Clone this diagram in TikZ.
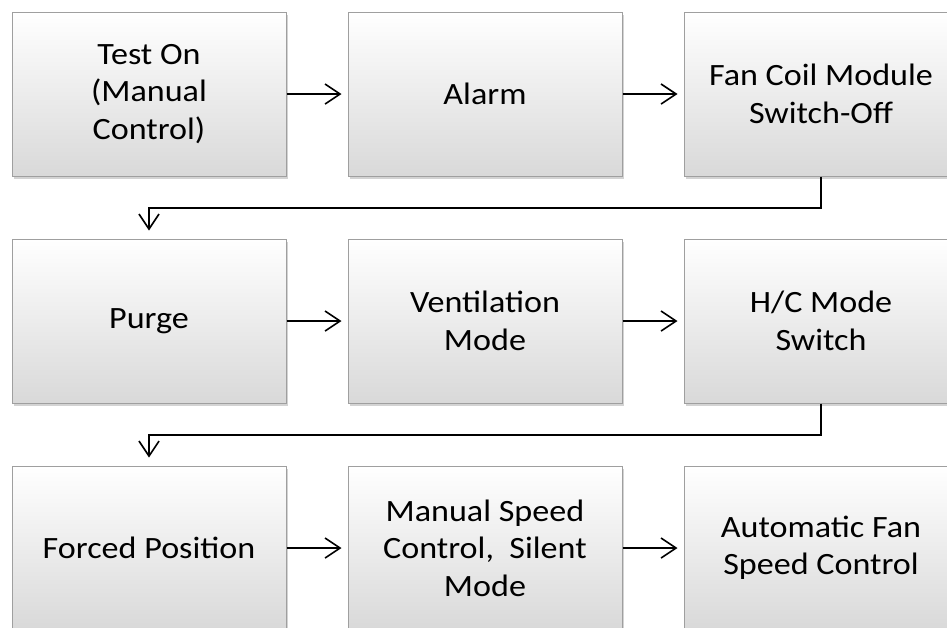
\documentclass[tikz,border=0pt]{standalone}
\usepackage{fontspec}
\setmainfont[FakeStretch=1.1]{Carlito}
\usetikzlibrary{arrows.meta,shadows}
\tikzset{
  flowbox/.style={draw=gray!75, line width=1pt, top color=white, bottom color=gray!30,
    minimum width=274pt, minimum height=164pt, align=center, inner sep=0pt,
    font=\fontsize{31}{37.5}\selectfont,
    drop shadow={shadow xshift=1.5pt, shadow yshift=-3pt, opacity=0.35, fill=gray}},
  flowarrow/.style={line width=1.6pt, -{Straight Barb[length=15pt,width=20pt,line width=1.6pt]}, shorten >=6pt}
}
\begin{document}
\begin{tikzpicture}[x=1pt,y=-1pt]
\useasboundingbox (0,0) rectangle (947,627);
\clip (0,0) rectangle (947,627);
\node[flowbox] (a) at (149,94) {Test On\\(Manual\\Control)};
\node[flowbox] (b) at (485,94) {Alarm};
\node[flowbox] (c) at (821,94) {Fan Coil Module\\Switch-Off};
\node[flowbox] (d) at (149,321) {Purge};
\node[flowbox] (e) at (485,321) {Ventilation\\Mode};
\node[flowbox] (f) at (821,321) {H/C Mode\\Switch};
\node[flowbox] (g) at (149,548) {Forced Position};
\node[flowbox] (h) at (485,548) {Manual Speed\\Control,\ \ Silent\\Mode};
\node[flowbox] (i) at (821,548) {Automatic Fan\\Speed Control};
\draw[flowarrow] (a) -- (b);
\draw[flowarrow] (b) -- (c);
\draw[flowarrow] (d) -- (e);
\draw[flowarrow] (e) -- (f);
\draw[flowarrow] (g) -- (h);
\draw[flowarrow] (h) -- (i);
\draw[flowarrow, shorten >=8pt] (c.south) -- ++(0,31.5) -| (d.north);
\draw[flowarrow, shorten >=8pt] (f.south) -- ++(0,31.5) -| (g.north);
\end{tikzpicture}
\end{document}
